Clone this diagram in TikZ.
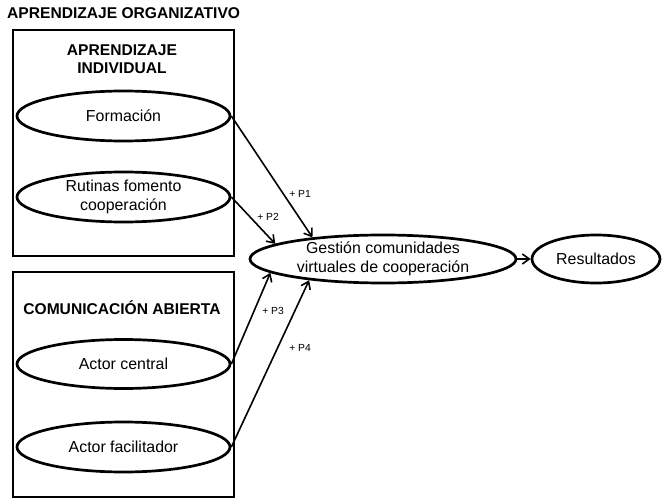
\documentclass[tikz,border=0pt]{standalone}
\usepackage{fontspec}
\setmainfont{Liberation Sans}
\usetikzlibrary{shapes.geometric,arrows.meta}
\begin{document}
\begin{tikzpicture}[x=1pt,y=-1pt,
 oval/.style={ellipse, draw, line width=2.7pt, inner sep=0pt, font=\fontsize{15.9}{18.5}\selectfont, align=center},
 frame/.style={draw, line width=2.2pt, inner sep=0pt},
 title/.style={font=\bfseries\fontsize{15.6}{18.5}\selectfont, align=center, inner sep=0pt},
 conn/.style={line width=1.6pt, -{Straight Barb[length=7pt,width=10pt]}},
 plabel/.style={font=\fontsize{10.3}{12}\selectfont, inner sep=0pt}]
\useasboundingbox (0,0) rectangle (664,500);
\node[title, anchor=west] (org) at (7,13) {APRENDIZAJE ORGANIZATIVO};
\node[frame, minimum width=221pt, minimum height=226pt] (box1) at (123.5,143) {};
\node[frame, minimum width=221pt, minimum height=225pt] (box2) at (123.5,384.5) {};
\node[title] (t1) at (122,59) {APRENDIZAJE\\INDIVIDUAL};
\node[title] (t2) at (122,308) {COMUNICACIÓN ABIERTA};
\node[oval, minimum width=213pt, minimum height=50pt] (form) at (123.5,116) {Formación};
\node[oval, minimum width=213pt, minimum height=50pt] (rut) at (123.5,197) {Rutinas fomento\\cooperación};
\node[oval, minimum width=213pt, minimum height=49pt] (ac) at (123.5,364) {Actor central};
\node[oval, minimum width=213pt, minimum height=50pt] (af) at (123.5,447) {Actor facilitador};
\node[oval, minimum width=266pt, minimum height=48pt] (g) at (383,259) {Gestión comunidades\\virtuales de cooperación};
\node[oval, minimum width=128pt, minimum height=48pt] (r) at (596,259) {Resultados};
\draw[conn] (form.east) -- (g.163.7);
\draw[conn] (rut.east) -- (g.172.7);
\draw[conn] (ac.east) -- (g.187.3);
\draw[conn] (af.east) -- (g.196);
\draw[conn] (g.east) -- (r.west);
\node[plabel] (p1) at (300,194) {+ P1};
\node[plabel] (p2) at (268,217) {+ P2};
\node[plabel] (p3) at (273,311) {+ P3};
\node[plabel] (p4) at (300,348) {+ P4};
\end{tikzpicture}
\end{document}
